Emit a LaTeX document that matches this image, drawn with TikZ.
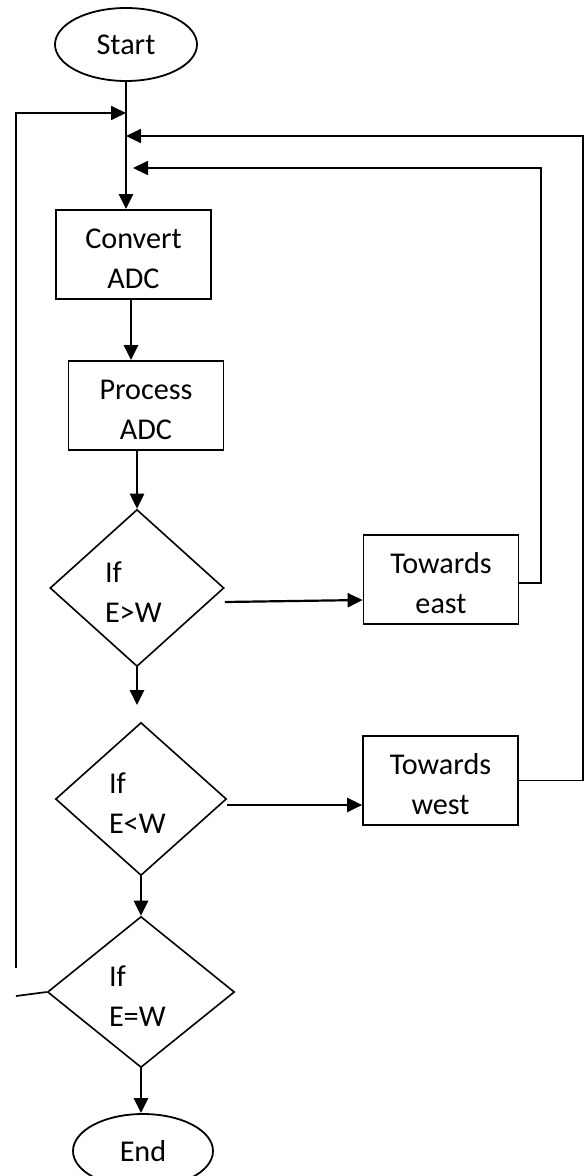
\documentclass[tikz,border=0pt]{standalone}
\usepackage{fontspec}
\setmainfont{Carlito}
\usetikzlibrary{shapes.geometric,arrows.meta,calc}
\begin{document}
\begin{tikzpicture}[x=0.5pt,y=-0.5pt,
  every node/.style={font=\fontsize{15.1}{20}\selectfont},
  procbox/.style={draw, line width=0.85pt, rectangle, minimum width=77.5pt, minimum height=44.5pt, inner sep=0pt, text width=70pt, align=center, text height=14pt},
  term/.style={draw, line width=0.9pt, ellipse, inner sep=0pt},
  decision/.style={draw, line width=0.8pt, diamond, inner sep=0pt, text width=32pt, align=left, text height=14pt},
  flow/.style={line width=1.35pt, -{Triangle[length=7.5pt,width=7pt]}},
  sideflow/.style={line width=1.1pt, -{Triangle[length=7.5pt,width=7pt]}},
  loopline/.style={line width=0.85pt},
  loopflow/.style={line width=0.9pt, -{Triangle[length=7.5pt,width=7pt]}},
]
\useasboundingbox (0,0) rectangle (584,1176);
\clip (0,0) rectangle (584,1176);

% nodes
\node[term, minimum width=71pt, minimum height=36.5pt] (start) at (126,44.5) {Start};
\node[procbox] (convert) at (133.5,254.5) {Convert\\ADC};
\node[procbox] (process) at (146,405.5) {Process\\ADC};
\node[decision, minimum width=87pt, minimum height=78.5pt] (d1) at (137,588) {If\\E>W};
\node[procbox] (east) at (441,579.5) {Towards\\east};
\node[decision, minimum width=85.5pt, minimum height=76.5pt] (d2) at (141,799) {If\\E<W};
\node[procbox] (west) at (440.5,780.5) {Towards\\west};
\node[decision, minimum width=93.5pt, minimum height=75.5pt] (d3) at (141,992) {If\\E=W};
\node[term, minimum width=70pt, minimum height=37pt] (end) at (143,1151) {End};

% junction coordinates
\coordinate (jA) at (126,113);
\coordinate (jB) at (126,136);
\coordinate (jC) at (133,168);
\coordinate (lTop) at (16,113);
\coordinate (lBot) at (16,968);
\coordinate (lEnd) at (16,996);
\coordinate (eastTurn) at (541,168);
\coordinate (westTurn) at (583,136);
\coordinate (d1out) at (137,705);

% main flow
\draw[flow] (start.south) -- (start.south |- convert.north);
\draw[flow] ([xshift=-1.25pt]convert.south) -- ([xshift=-1.25pt]convert.south |- process.north);
\draw[flow] (d1.north |- process.south) -- (d1.north);
\draw[flow] (d1.south) -- (d1out);
\draw[flow] (d2.south) -- (d3.north);
\draw[flow] (d3.south) -- (d3.south |- end.north);

% side branches
\draw[sideflow] ([yshift=-7pt]d1.east) -- ([yshift=-10.25pt]east.west);
\draw[sideflow] ([yshift=-3pt]d2.east) -- ([yshift=-12.25pt]west.west);

% loops back
\draw[loopline] (d3.west) -- (lEnd);
\draw[loopflow] (lBot) -- (lTop) -- (jA);
\draw[loopflow] (west.east) -| (westTurn) -- (jB);
\draw[loopflow] ([yshift=-1.75pt]east.east) -| (eastTurn) -- (jC);
\end{tikzpicture}
\end{document}
